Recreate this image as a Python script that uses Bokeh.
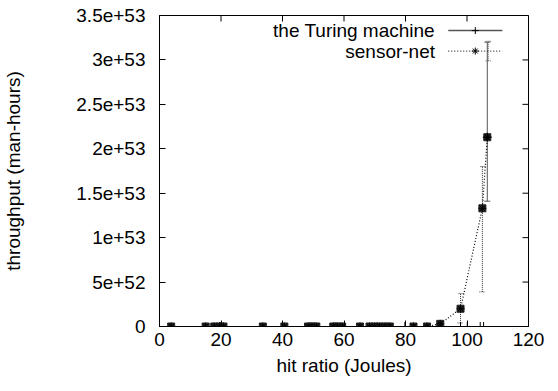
import math
from bokeh.plotting import figure
from bokeh.models import (ColumnDataSource, Range1d, FixedTicker, Whisker,
                          TeeHead, Label, CustomJSTickFormatter)
from bokeh.embed import file_html
from bokeh.resources import INLINE

FONT = "Liberation Sans"

# ---- data ----
sn_x = [3.8, 15.0, 17.8, 19.5, 20.8, 33.6, 40.6, 48.3, 49.6, 51.0, 56.5, 57.8, 59.4,
        65.2, 68.3, 70.0, 71.6, 73.3, 74.9, 82.6, 87.0, 91.3, 97.9, 105.0, 106.6]
sn_y = [0, 0, 0, 0, 0, 0, 0, 0, 0, 0, 0, 0, 0,
        0, 0, 0, 0, 0, 0, 0, 0, 0.03e53, 0.20e53, 1.33e53, 2.13e53]
sn_lo = [0, 0, 0, 0, 0, 0, 0, 0, 0, 0, 0, 0, 0,
         0, 0, 0, 0, 0, 0, 0, 0, 0.03e53, 0.04e53, 0.39e53, 2.13e53]
sn_hi = [0, 0, 0, 0, 0, 0, 0, 0, 0, 0, 0, 0, 0,
         0, 0, 0, 0, 0, 0, 0, 0, 0.03e53, 0.37e53, 1.80e53, 2.13e53]

tm_x = [19.6, 79.8, 97.9, 100.1, 104.3, 105.4, 106.6]
tm_y = [0, 0, 0, 0, 0, 0, 2.13e53]
tm_lo = [0, 0, 0, 0, 0, 0, 1.41e53]
tm_hi = [0, 0, 0, 0, 0, 0, 3.20e53]

x_ticks = [0, 20, 40, 60, 80, 100, 120]
y_ticks = [0, 5e52, 1e53, 1.5e53, 2e53, 2.5e53, 3e53, 3.5e53]

series_names = ["the Turing machine", "sensor-net"]

X_MAX, Y_MAX = 120, 3.5e53

p = figure(output_backend="svg", toolbar_location=None,
           width=550, height=383,
           x_range=Range1d(0, X_MAX), y_range=Range1d(0, Y_MAX),
           min_border_left=151, min_border_right=22, min_border_top=15, min_border_bottom=57)
p.xgrid.visible = False
p.ygrid.visible = False
p.outline_line_color = "black"
p.outline_line_width = 1
p.background_fill_color = "white"
p.border_fill_color = "white"

fmt = CustomJSTickFormatter(code="return tick == 0 ? '0' : tick.toExponential();")

for ax in (p.xaxis[0], p.yaxis[0]):
    ax.major_tick_in = 6
    ax.major_tick_out = 0
    ax.minor_tick_line_color = None
    ax.axis_line_color = "black"
    ax.major_tick_line_color = "black"
    ax.major_label_text_font = FONT
    ax.major_label_text_font_size = "19px"
    ax.major_label_text_color = "black"
    ax.axis_label_text_font = FONT
    ax.axis_label_text_font_size = "19px"
    ax.axis_label_text_font_style = "normal"
    ax.axis_label_text_color = "black"

p.xaxis[0].ticker = FixedTicker(ticks=x_ticks)
p.yaxis[0].ticker = FixedTicker(ticks=y_ticks)
p.yaxis[0].formatter = fmt
p.xaxis[0].axis_label = "hit ratio (Joules)"
p.yaxis[0].axis_label = "throughput (man-hours)"
p.xaxis[0].major_label_standoff = 6
p.yaxis[0].major_label_standoff = 14
p.xaxis[0].axis_label_standoff = 6
p.yaxis[0].axis_label_standoff = 49

# mirror ticks on top and right edges (half of each dash is clipped by the frame)
p.scatter(x_ticks, [Y_MAX] * len(x_ticks), marker="dash", angle=math.pi / 2, size=12,
          line_color="black", line_width=1)
p.scatter([X_MAX] * len(y_ticks), y_ticks, marker="dash", size=12,
          line_color="black", line_width=1)

# sensor-net: dotted line, squares + asterisks, dotted error bars
sn_src = ColumnDataSource(dict(x=sn_x, y=sn_y, lo=sn_lo, hi=sn_hi))
p.line("x", "y", source=sn_src, line_color="black", line_dash="1 2", line_width=1.2)
eb_sn = ColumnDataSource(dict(
    x=[a for a, l, h in zip(sn_x, sn_lo, sn_hi) if h > l],
    lo=[l for l, h in zip(sn_lo, sn_hi) if h > l],
    hi=[h for l, h in zip(sn_lo, sn_hi) if h > l]))
p.add_layout(Whisker(source=eb_sn, base="x", lower="lo", upper="hi", dimension="height",
                     line_color="#333333", line_dash="1 1", line_width=1,
                     upper_head=TeeHead(size=6, line_color="#333333", line_dash="1 1"),
                     lower_head=TeeHead(size=6, line_color="#333333", line_dash="1 1")))
p.scatter("x", "y", source=sn_src, marker="square", size=7, fill_color="#222222",
          line_color="#222222")
p.scatter("x", "y", source=sn_src, marker="asterisk", size=8, line_color="black")

# the Turing machine: solid line, plus markers, solid error bars
tm_src = ColumnDataSource(dict(x=tm_x, y=tm_y))
p.line(tm_x[:-1], tm_y[:-1], line_color="#333333", line_width=1)
eb_tm = ColumnDataSource(dict(
    x=[a for a, l, h in zip(tm_x, tm_lo, tm_hi) if h > l],
    lo=[l for l, h in zip(tm_lo, tm_hi) if h > l],
    hi=[h for l, h in zip(tm_lo, tm_hi) if h > l]))
p.add_layout(Whisker(source=eb_tm, base="x", lower="lo", upper="hi", dimension="height",
                     line_color="#555555", line_width=1,
                     upper_head=TeeHead(size=6, line_color="#555555"),
                     lower_head=TeeHead(size=6, line_color="#555555")))
p.scatter("x", "y", source=tm_src, marker="cross", size=9, line_color="black")

# ---- manual gnuplot-style key (text left of sample) ----
key_text_x = 89.6
key_x0, key_x1, key_mark = 93.9, 111.5, 102.7
key_rows = [3.33e53, 3.10e53]
for name, ky in zip(series_names, key_rows):
    p.add_layout(Label(x=key_text_x, y=ky, text=name, text_align="right",
                       text_baseline="middle", text_font=FONT, text_font_size="19px",
                       text_color="black"))
p.segment([key_x0], [key_rows[0]], [key_x1], [key_rows[0]], line_color="#555555", line_width=1.5)
p.scatter([key_mark], [key_rows[0]], marker="cross", size=7, line_color="black")
p.segment([key_x0], [key_rows[1]], [key_x1], [key_rows[1]], line_color="#333333",
          line_dash="1 2", line_width=1.2)
p.scatter([key_mark], [key_rows[1]], marker="asterisk", size=7, line_color="black")
p.add_layout(Whisker(source=ColumnDataSource(dict(x=[106.9], lo=[2.99e53], hi=[3.21e53])),
                     base="x", lower="lo", upper="hi", dimension="height",
                     line_color="#555555", line_dash="1 1", line_width=1,
                     upper_head=TeeHead(size=5, line_color="#555555", line_dash="1 1"),
                     lower_head=TeeHead(size=5, line_color="#555555", line_dash="1 1")))

open("out.html", "w").write(file_html(p, INLINE))
